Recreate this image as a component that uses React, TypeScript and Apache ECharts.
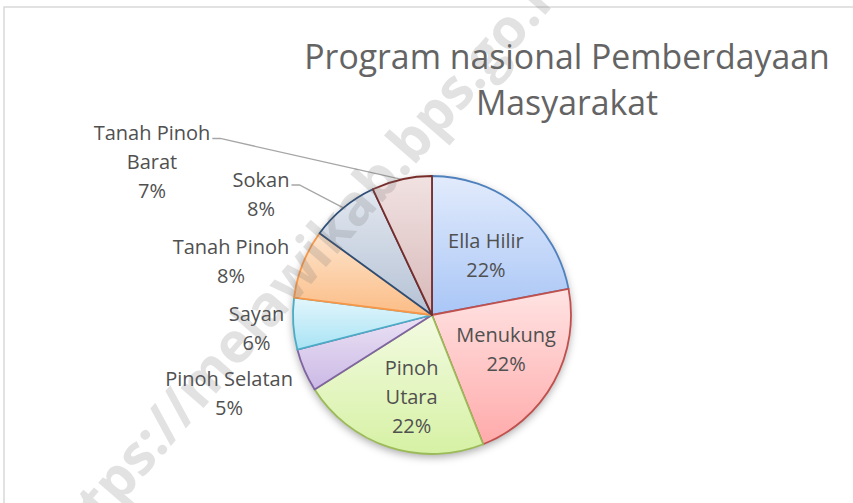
import React, { useEffect, useRef } from 'react';
import * as echarts from 'echarts';

// ---- data ----
const categories = ['Ella Hilir', 'Menukung', 'Pinoh Utara', 'Pinoh Selatan', 'Sayan', 'Tanah Pinoh', 'Sokan', 'Tanah Pinoh Barat'];
const shares = [22, 22, 22, 5, 6, 8, 8, 7];
const labelText = ['Ella Hilir', 'Menukung', 'Pinoh\nUtara', 'Pinoh Selatan', 'Sayan', 'Tanah Pinoh', 'Sokan', 'Tanah Pinoh\nBarat'];
const titleLines = ['Program nasional Pemberdayaan', 'Masyarakat'];
const watermark = 'https://melawikab.bps.go.id';

// ---- styles ----
const fillTop = ['#e2ebfc', '#ffe3e3', '#f3fbe2', '#ebe2f5', '#e3f6fc', '#fde4cd', '#e2e7ef', '#f1e2e2'];
const fillBottom = ['#a9c6f6', '#ffaaaa', '#d6f1a4', '#cbb9e5', '#a8e3f4', '#fbbd86', '#b5c2d5', '#d8b9b9'];
const borderColors = ['#4f81bd', '#c0504d', '#9bbb59', '#8064a2', '#4bacc6', '#f79646', '#2c4d75', '#772c2a'];
const labelInside = [true, true, true, false, false, false, false, false];
const leaderLine = [false, false, false, false, false, false, true, true];
// label nudges relative to the library's default label anchor
const labelNudge: number[][] = [
  [7.7, -4.4], [10.6, -0.5], [2, 13],
  [-51.2, 18.8], [-11.8, 3.2], [-47.5, 0.9], [-61, -6.2], [-232.5, -7.6],
];

export default function App() {
  const ref = useRef<HTMLDivElement>(null);
  useEffect(() => {
    if (!ref.current) return;
    const chart = echarts.init(ref.current, undefined, { renderer: 'svg' });
    const font = "'Open Sans', 'Noto Sans', sans-serif";

    const data = categories.map((name, i) => ({
      name,
      value: shares[i],
      itemStyle: {
        color: new echarts.graphic.LinearGradient(0, 0, 0, 1, [
          { offset: 0, color: fillTop[i] },
          { offset: 1, color: fillBottom[i] },
        ]),
        borderColor: borderColors[i],
      },
      label: { position: labelInside[i] ? 'inside' : 'outside' },
      labelLine: { show: leaderLine[i] },
    }));

    const labelLayout = (p: any) => {
      const i = p.dataIndex;
      const r = p.labelRect;
      const [sx, sy] = labelNudge[i];
      const baseX = labelInside[i] ? r.x + r.width / 2 : r.x + r.width;
      const x = baseX + sx;
      const y = r.y + r.height / 2 + sy;
      const out: any = { x, y, align: 'center', verticalAlign: 'middle' };
      if (leaderLine[i] && p.labelLinePoints && p.labelLinePoints.length) {
        const a = p.labelLinePoints[0];
        const right = x + r.width / 2;
        const ly = y - r.height / 2 + 20;
        out.labelLinePoints = [[a[0], a[1]], [right + 10, ly], [right + 2, ly]];
      }
      return out;
    };

    chart.setOption({
      animation: false,
      backgroundColor: '#ffffff',
      title: {
        text: titleLines.join('\n'),
        left: 567,
        top: 33,
        textAlign: 'center',
        padding: 0,
        textStyle: { fontFamily: font, fontSize: 33.8, fontWeight: 'normal', color: '#646464', lineHeight: 46 },
      },
      graphic: [
        {
          type: 'rect',
          silent: true,
          z: -10,
          shape: { x: 4, y: 7, width: 900, height: 560 },
          style: { fill: 'none', stroke: '#d9d9d9', lineWidth: 1.5 },
        },
        {
          type: 'text',
          silent: true,
          z: 100,
          x: 303,
          y: 260,
          rotation: (49 * Math.PI) / 180,
          style: {
            text: watermark,
            fontFamily: font,
            fontSize: 56,
            fontWeight: 'bold',
            fill: 'rgba(110,110,110,0.2)',
            align: 'center',
            verticalAlign: 'middle',
          },
        },
      ],
      series: [
        {
          type: 'pie',
          silent: true,
          z: 1,
          center: [432, 315],
          radius: 139,
          startAngle: 90,
          label: { show: false },
          labelLine: { show: false },
          itemStyle: {
            color: '#ffffff',
            shadowBlur: 8,
            shadowColor: 'rgba(0,0,0,0.35)',
            shadowOffsetY: 3,
          },
          data: categories.map((name, i) => ({ name, value: shares[i] })),
        },
        {
          type: 'pie',
          z: 2,
          center: [432, 315],
          radius: 139,
          startAngle: 90,
          clockwise: true,
          avoidLabelOverlap: false,
          label: {
            show: true,
            position: 'inside',
            fontFamily: font,
            fontSize: 20,
            lineHeight: 29,
            color: '#505050',
            formatter: (p: any) => `${labelText[p.dataIndex]}\n${Math.round(p.percent)}%`,
          },
          labelLine: {
            show: true,
            length: 10,
            length2: 10,
            lineStyle: { color: '#a6a6a6', width: 1.3 },
          },
          labelLayout,
          itemStyle: { borderWidth: 1.8 },
          emphasis: { disabled: true },
          data,
        },
      ],
    });
    return () => chart.dispose();
  }, []);
  return <div ref={ref} style={{ position: 'absolute', left: 0, top: 0, width: 853, height: 503 }} />;
}
